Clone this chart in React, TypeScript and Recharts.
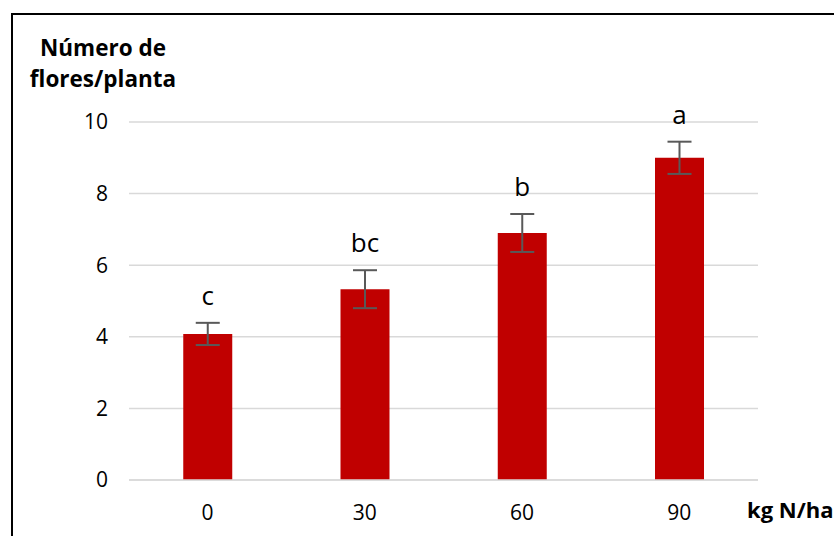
import { BarChart, Bar, XAxis, YAxis, CartesianGrid, ErrorBar, LabelList } from "recharts";

// ── Data ──────────────────────────────────────────────────────────────────────

const DOSES = ["0", "30", "60", "90"];
const MEANS = [4.08, 5.33, 6.9, 9.0];
const ERRORS = [0.31, 0.53, 0.53, 0.45];
const LETTERS = ["c", "bc", "b", "a"];
const Y_TICKS = [0, 2, 4, 6, 8, 10];

const FONT = "'Open Sans', sans-serif";
const BAR_COLOR = "#C00000";
const GRID = "#D9D9D9";

const data = DOSES.map((d, i) => ({
  dose: d,
  mean: MEANS[i],
  err: ERRORS[i],
  letter: LETTERS[i],
}));

// Letter sits above the top of the error bar
function LetterLabel(props: any) {
  const { x, y, width, height, index } = props;
  const row = data[index];
  if (!row) return null;
  const perUnit = height / row.mean;
  const errTop = y - row.err * perUnit;
  return (
    <text
      x={x + width / 2}
      y={errTop - 18}
      textAnchor="middle"
      fontFamily={FONT}
      fontSize={26}
      fill="#000"
    >
      {row.letter}
    </text>
  );
}

export default function App() {
  return (
    <div
      style={{
        position: "absolute",
        left: 0,
        top: 0,
        width: 834,
        height: 536,
        overflow: "hidden",
        background: "#fff",
        fontFamily: FONT,
      }}
    >
      <div
        style={{
          position: "absolute",
          left: 11,
          top: 13,
          width: 860,
          height: 560,
          border: "2px solid #000",
        }}
      />
      <BarChart
        width={834}
        height={536}
        data={data}
        margin={{ top: 122, right: 76, bottom: 0, left: 0 }}
        barCategoryGap="34.5%"
        style={{ position: "absolute", left: 0, top: 0 }}
      >
        <CartesianGrid vertical={false} stroke={GRID} strokeWidth={1.5} />
        <XAxis
          dataKey="dose"
          height={56}
          axisLine={{ stroke: GRID, strokeWidth: 1.5 }}
          tickLine={false}
          tickMargin={19}
          tick={{ fontSize: 21, fill: "#000", fontFamily: FONT }}
        />
        <YAxis
          width={129}
          domain={[0, 10]}
          ticks={Y_TICKS}
          axisLine={false}
          tickLine={false}
          tickMargin={15}
          tick={{ fontSize: 21, fill: "#000", fontFamily: FONT }}
        />
        <Bar dataKey="mean" fill={BAR_COLOR} isAnimationActive={false}>
          <ErrorBar dataKey="err" width={12} stroke="#595959" strokeWidth={2} />
          <LabelList dataKey="letter" content={LetterLabel} />
        </Bar>
        <text x={103} y={56} textAnchor="middle" fontFamily={FONT} fontSize={22.5} fontWeight="bold">
          Número de
        </text>
        <text x={103} y={87} textAnchor="middle" fontFamily={FONT} fontSize={22.5} fontWeight="bold">
          flores/planta
        </text>
        <text x={747} y={518} textAnchor="start" fontFamily={FONT} fontSize={22} fontWeight="bold">
          kg N/ha
        </text>
      </BarChart>
    </div>
  );
}
